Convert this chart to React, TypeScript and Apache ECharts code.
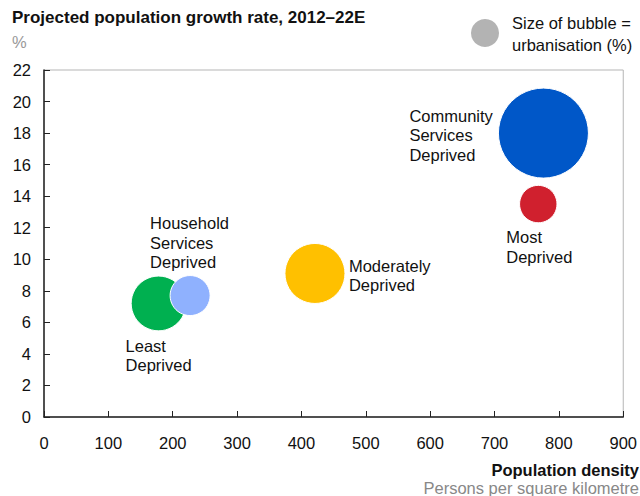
import React, { useEffect, useRef } from "react";
import * as echarts from "echarts";

const groups = [
  "Least\nDeprived",
  "Household\nServices\nDeprived",
  "Moderately\nDeprived",
  "Most\nDeprived",
  "Community\nServices\nDeprived",
];
const density = [178, 227, 421, 768, 776];
const growth = [7.2, 7.7, 9.1, 13.5, 18.0];
const urbanisation = [30, 16, 36, 14, 81];
const colors = ["#00B050", "#8FB1FE", "#FFC000", "#D0202E", "#0057C8"];
const labelOffsets: [number, number][] = [
  [-33, 52],
  [-40, -53],
  [34, 2],
  [-32, 43],
  [-134, 2],
];
const xTicks = [0, 100, 200, 300, 400, 500, 600, 700, 800, 900];
const yTicks = [0, 2, 4, 6, 8, 10, 12, 14, 16, 18, 20, 22];

const FONT = "'Liberation Sans', Arial, Helvetica, sans-serif";
const FS = 16.5;

export default function App() {
  const ref = useRef<HTMLDivElement>(null);
  useEffect(() => {
    if (!ref.current) return;
    const chart = echarts.init(ref.current, null, { renderer: "svg" });
    const data = groups.map((g, i) => ({
      name: g,
      value: [density[i], growth[i], urbanisation[i]],
      itemStyle: { color: colors[i], borderColor: "#fff", borderWidth: 1, opacity: 1 },
      label: {
        show: true,
        position: "inside",
        offset: labelOffsets[i],
        align: "left",
        verticalAlign: "middle",
        formatter: g,
        color: "#111",
        fontSize: FS,
        lineHeight: 19.5,
        fontFamily: FONT,
      },
    }));
    chart.setOption({
      animation: false,
      backgroundColor: "#fff",
      textStyle: { fontFamily: FONT },
      title: [
        {
          text: "Projected population growth rate, 2012–22E",
          left: 12,
          top: 9,
          padding: 0,
          textStyle: { fontSize: 17, fontWeight: "bold", color: "#111", fontFamily: FONT },
        },
        {
          text: "%",
          left: 12,
          top: 33,
          padding: 0,
          textStyle: { fontSize: FS, fontWeight: "normal", color: "#999", fontFamily: FONT },
        },
        {
          text: "Population density",
          right: 1,
          top: 461,
          padding: 0,
          textStyle: { fontSize: FS, fontWeight: "bold", color: "#111", fontFamily: FONT },
        },
        {
          text: "Persons per square kilometre",
          right: 1,
          top: 479,
          padding: 0,
          textStyle: { fontSize: FS, fontWeight: "normal", color: "#888", fontFamily: FONT },
        },
      ],
      graphic: [
        {
          type: "circle",
          shape: { cx: 485, cy: 33, r: 14 },
          style: { fill: "#B3B3B3" },
        },
        {
          type: "text",
          x: 512,
          y: 12,
          style: {
            text: "Size of bubble =\nurbanisation (%)",
            fill: "#111",
            fontSize: FS,
            lineHeight: 22,
            fontFamily: FONT,
          },
        },
      ],
      grid: {
        left: 44,
        right: 15,
        top: 70,
        bottom: 79,
        show: true,
        borderColor: "#B5B5B5",
        borderWidth: 1,
      },
      xAxis: {
        type: "value",
        min: 0,
        max: 900,
        interval: 100,
        axisLine: { show: true, lineStyle: { color: "#222", width: 1.5 } },
        axisTick: { show: true, inside: true, length: 6, lineStyle: { color: "#222" } },
        axisLabel: {
          color: "#111",
          fontSize: FS,
          margin: 17,
          fontFamily: FONT,
          formatter: (v: number) => (xTicks.includes(v) ? String(v) : ""),
        },
        splitLine: { show: false },
      },
      yAxis: {
        type: "value",
        min: 0,
        max: 22,
        interval: 2,
        axisLine: { show: true, lineStyle: { color: "#222", width: 1.5 } },
        axisTick: { show: true, inside: true, length: 6, lineStyle: { color: "#222" } },
        axisLabel: {
          color: "#111",
          fontSize: FS,
          margin: 13,
          fontFamily: FONT,
          formatter: (v: number) => (yTicks.includes(v) ? String(v) : ""),
        },
        splitLine: { show: false },
      },
      series: [
        {
          type: "scatter",
          data,
          symbol: "circle",
          symbolSize: (val: number[]) => 10 * Math.sqrt(val[2]),
          emphasis: { disabled: true },
        },
      ],
    });
    return () => chart.dispose();
  }, []);
  return (
    <div
      ref={ref}
      style={{ position: "fixed", left: 0, top: 0, width: 640, height: 496 }}
    />
  );
}
